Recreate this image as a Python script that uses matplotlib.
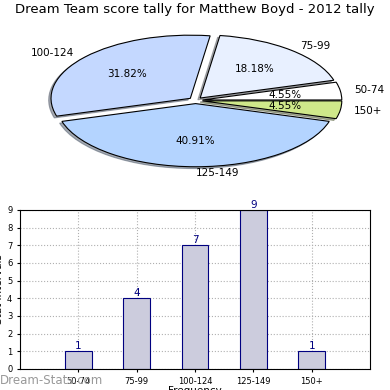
import matplotlib
matplotlib.use("Agg")
import matplotlib.pyplot as plt

# donnees
pie_labels = ["50-74", "75-99", "100-124", "125-149", "150+"]
pie_values = [1, 4, 7, 9, 1]
pie_colors = ["#ffffff", "#e8f0ff", "#c4d8ff", "#b4d4ff", "#cfe88a"]

bar_labels = ["50-74", "75-99", "100-124", "125-149", "150+"]
bar_values = [1, 4, 7, 9, 1]

fig = plt.figure(figsize=(3.9, 3.9), dpi=100)

# camembert
ax1 = fig.add_axes([0.055, 0.54, 0.893, 0.405])
ax1.pie(pie_values, labels=pie_labels, colors=pie_colors, autopct="%1.2f%%",
        explode=[0.05] * 5, startangle=0,
        shadow={"ox": -0.012, "oy": -0.02, "shade": 0.6},
        wedgeprops={"edgecolor": "black", "linewidth": 0.8},
        textprops={"fontsize": 7.5})
ax1.set_aspect("auto")
ax1.set_xlim(-1.25, 1.25)
ax1.set_ylim(-1.25, 1.25)
fig.text(0.5, 0.975, "Dream Team score tally for Matthew Boyd - 2012 tally",
         ha="center", va="center", fontsize=9.5)

# histogramme
ax2 = fig.add_axes([0.051, 0.054, 0.898, 0.408])
x = list(range(len(bar_values)))
ax2.bar(x, bar_values, width=0.46, color="#ccccdd", edgecolor="navy", linewidth=0.8)
for xi, v in zip(x, bar_values):
    ax2.text(xi, v, str(v), ha="center", va="bottom", color="navy", fontsize=7.5)
ax2.set_xlim(-1, 5)
ax2.set_ylim(0, 9)
ax2.set_xticks(x)
ax2.set_xticklabels(bar_labels, fontsize=6)
ax2.set_yticks(range(10))
ax2.tick_params(axis="y", labelsize=6, length=2)
ax2.tick_params(axis="x", length=2)
ax2.grid(True, linestyle=":", color="#b0b0b0", linewidth=0.8)
ax2.set_axisbelow(True)
ax2.set_ylabel("Stat Intervals", fontsize=7.5, labelpad=2)
ax2.set_xlabel("Frequency", fontsize=7.5, labelpad=0)

fig.text(0.0, 0.025, "Dream-Stats.com", color="#999999", fontsize=8.5, va="center")

fig.savefig("out.png", dpi=100)
